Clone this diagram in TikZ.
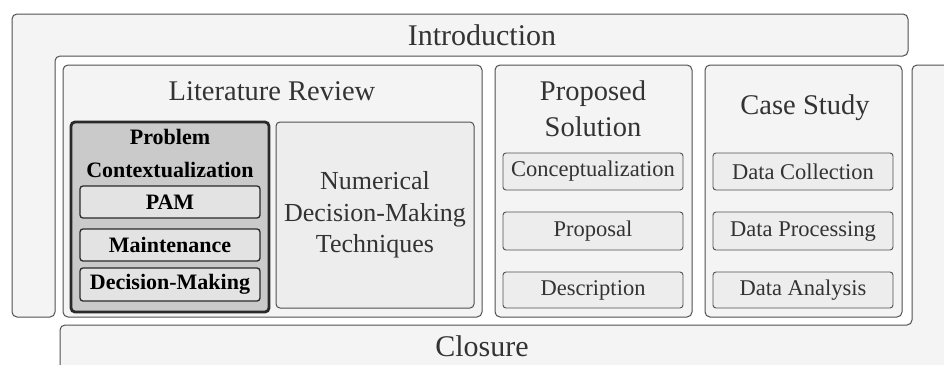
\documentclass[tikz,border=0pt]{standalone}
\usepackage{fontspec}
\setmainfont{LiberationSerif}[Extension=.ttf, UprightFont=*-Regular, BoldFont=*-Bold, ItalicFont=*-Italic, BoldItalicFont=*-BoldItalic]
\definecolor{edge}{HTML}{505050}
\definecolor{dark}{HTML}{2A2A2A}
\definecolor{panelfill}{HTML}{F4F4F4}
\definecolor{boxfill}{HTML}{EDEDED}
\definecolor{pcfill}{HTML}{CACACA}
\definecolor{pcinner}{HTML}{E3E3E3}
\definecolor{txt}{HTML}{333333}
\begin{document}
\begin{tikzpicture}[x=1pt,y=-1pt,
  panel/.style={draw=edge, line width=1pt, fill=panelfill, rounded corners=5pt},
  framebox/.style={draw=edge, line width=1pt, fill=panelfill, rounded corners=5pt, inner sep=0pt},
  smallbox/.style={draw=edge, line width=0.9pt, fill=boxfill, rounded corners=3pt, inner sep=0pt,
    minimum width=180pt, text=txt, font=\fontsize{22.5}{26}\selectfont},
  pcbox/.style={draw=dark, line width=2.8pt, fill=pcfill, rounded corners=4pt, inner sep=0pt},
  pcitem/.style={draw=dark, line width=1.3pt, fill=pcinner, rounded corners=3pt, inner sep=0pt,
    minimum width=180pt, text=black, font=\fontsize{22}{26}\selectfont\bfseries},
  title/.style={text=txt, font=\fontsize{28.5}{36}\selectfont, align=center, inner sep=0pt},
  bigtitle/.style={text=txt, font=\fontsize{30}{36}\selectfont, inner sep=0pt}]
\clip (0,0) rectangle (944,364);
\fill[white] (0,0) rectangle (944,364);
% Introduction (inverted L)
\draw[panel] (12,14) -- (908,14) -- (908,56) -- (55,56) -- (55,317) -- (12,317) -- cycle;
\node[bigtitle] (intro) at (482,35) {Introduction};
% Closure (L)
\draw[panel] (912,65) -- (960,65) -- (960,380) -- (60,380) -- (60,325) -- (912,325) -- cycle;
\node[bigtitle] (closure) at (482,346) {Closure};
% Literature review
\node[framebox, minimum width=419pt, minimum height=252pt] (lit) at (272.5,191) {};
\node[title] (littitle) at (272,91) {Literature Review};
\node[pcbox, minimum width=198pt, minimum height=190pt] (pc) at (170,217) {};
\node[text=black, font=\fontsize{22}{33}\selectfont\bfseries, align=center, inner sep=0pt] (pctitle) at (170,153) {Problem\\Contextualization};
\node[pcitem, minimum height=32pt] (pam) at (170,202) {PAM};
\node[pcitem, minimum height=32pt] (maint) at (170,245) {Maintenance};
\node[pcitem, minimum height=33pt] (dm) at (170,284.5) {Decision-Making};
\node[framebox, fill=boxfill, rounded corners=4pt, minimum width=198pt, minimum height=186pt,
  text=txt, font=\fontsize{26}{31.5}\selectfont, align=center] (num) at (375,215)
  {Numerical\\Decision-Making\\Techniques};
% Proposed solution
\node[framebox, minimum width=197pt, minimum height=252pt] (prop) at (593.5,191) {};
\node[title] (proptitle) at (593,109) {Proposed\\Solution};
\node[smallbox, minimum height=37pt] (concept) at (593,171.5) {Conceptualization};
\node[smallbox, minimum height=38pt] (proposal) at (593,231) {Proposal};
\node[smallbox, minimum height=36pt] (desc) at (593,290) {Description};
% Case study
\node[framebox, minimum width=197pt, minimum height=252pt] (case) at (803.5,191) {};
\node[title] (casetitle) at (805,108) {Case Study};
\node[smallbox, minimum height=37pt] (dc) at (803,171.5) {Data Collection};
\node[smallbox, minimum height=38pt] (dp) at (803,231) {Data Processing};
\node[smallbox, minimum height=36pt] (da) at (803,290) {Data Analysis};
\end{tikzpicture}
\end{document}
